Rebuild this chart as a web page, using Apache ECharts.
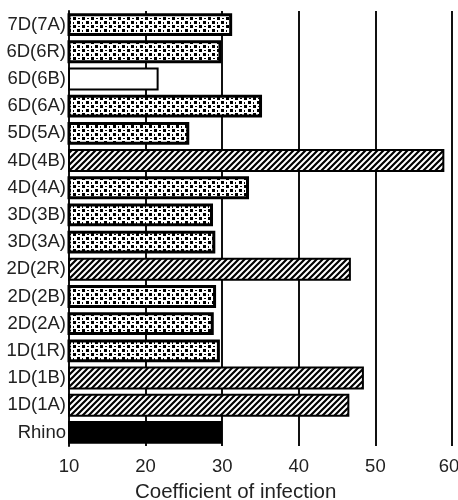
<!DOCTYPE html>
<html>
<head>
<meta charset="utf-8">
<script src="https://cdn.jsdelivr.net/npm/echarts@6/dist/echarts.min.js"></script>
<style>html,body{margin:0;padding:0;background:#fff;}#c{width:458px;height:500px;}</style>
</head>
<body>
<div id="c"></div>
<script>
// Data (bottom to top)
const categories = ['Rhino','1D(1A)','1D(1B)','1D(1R)','2D(2A)','2D(2B)','2D(2R)','3D(3A)','3D(3B)','4D(4A)','4D(4B)','5D(5A)','6D(6A)','6D(6B)','6D(6R)','7D(7A)'];
const values = [30, 46.6, 48.5, 29.7, 28.9, 29.2, 46.8, 29.1, 28.8, 33.5, 59.0, 25.7, 35.2, 21.7, 29.9, 31.3];
const fillKinds = ['solid','hatch','hatch','dots','dots','dots','hatch','dots','dots','dots','hatch','dots','dots','blank','dots','dots'];
const xTicks = [10, 20, 30, 40, 50, 60];
const xTitle = 'Coefficient of infection';

function hatchPattern() {
  const s = 6;
  const c = document.createElement('canvas');
  c.width = s; c.height = s;
  const g = c.getContext('2d');
  g.fillStyle = '#fff'; g.fillRect(0, 0, s, s);
  g.strokeStyle = '#000'; g.lineWidth = 2.2;
  g.beginPath();
  g.moveTo(-1, s + 1); g.lineTo(s + 1, -1);
  g.moveTo(-1, 1); g.lineTo(1, -1);
  g.moveTo(s - 1, s + 1); g.lineTo(s + 1, s - 1);
  g.stroke();
  return c;
}
function dotPattern() {
  const c = document.createElement('canvas');
  c.width = 9; c.height = 8;
  const g = c.getContext('2d');
  g.fillStyle = '#fff'; g.fillRect(0, 0, 9, 8);
  g.fillStyle = '#000';
  g.fillRect(1, 1, 3, 3);
  g.fillRect(5, 5, 3, 3);
  g.fillRect(6, 2, 2, 1);
  g.fillRect(1, 6, 1, 2);
  return c;
}
const hatch = hatchPattern();
const dots = dotPattern();
function fillFor(kind) {
  if (kind === 'solid') return '#000';
  if (kind === 'blank') return '#fff';
  if (kind === 'hatch') return { image: hatch, repeat: 'repeat' };
  return { image: dots, repeat: 'repeat' };
}
function borderFor(kind) {
  return kind === 'dots' ? 3 : 2;
}

const FONT = 'Liberation Sans, Arial, sans-serif';
const chart = echarts.init(document.getElementById('c'), null, { renderer: 'canvas' });
chart.setOption({
  animation: false,
  backgroundColor: '#fff',
  textStyle: { fontFamily: FONT },
  title: {
    text: xTitle,
    left: 130, top: 477,
    textStyle: { fontSize: 20.5, fontWeight: 'normal', color: '#222', fontFamily: FONT }
  },
  grid: { left: 69, right: 6, top: 11, bottom: 54, containLabel: false, outerBoundsMode: 'none' },
  xAxis: {
    type: 'value',
    min: xTicks[0], max: xTicks[xTicks.length - 1], interval: 10,
    axisLine: { show: false },
    axisTick: { show: false },
    axisLabel: {
      fontSize: 18.5, color: '#222', margin: 11,
      formatter: function (v) { return v === xTicks[xTicks.length - 1] ? '{last|' + v + '}' : String(v); },
      rich: { last: { fontSize: 18.5, color: '#222', padding: [0, 6, 0, 0] } }
    },
    splitLine: { show: true, lineStyle: { color: '#111', width: 2 } }
  },
  yAxis: {
    type: 'category',
    data: categories,
    axisLine: { show: true, lineStyle: { color: '#111', width: 2 } },
    axisTick: { show: false },
    axisLabel: { fontSize: 18.5, color: '#222', margin: 3 },
    splitLine: { show: false }
  },
  series: [{
    type: 'bar',
    barCategoryGap: '16%',
    clip: true,
    data: values.map((v, i) => ({
      value: v,
      itemStyle: { color: fillFor(fillKinds[i]), borderColor: '#000', borderWidth: borderFor(fillKinds[i]) }
    }))
  }]
});
</script>
</body>
</html>
